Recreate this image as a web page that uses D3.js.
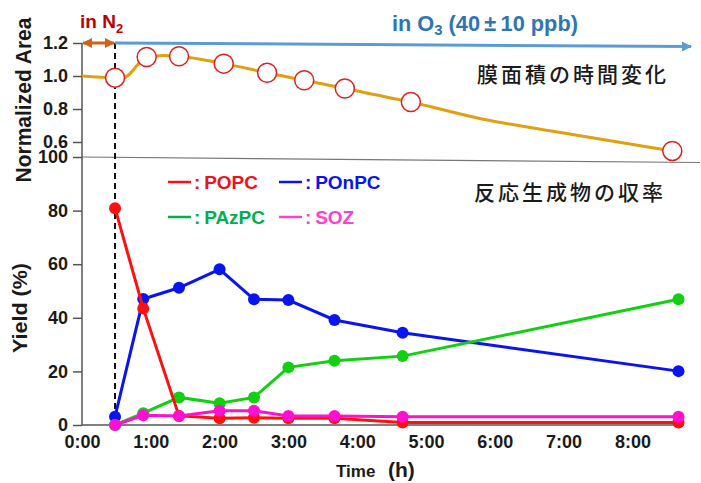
<!DOCTYPE html>
<html><head><meta charset="utf-8">
<script src="https://cdn.jsdelivr.net/npm/d3@7"></script>
<style>body{margin:0;background:#fff;} svg{display:block;}</style>
</head><body><svg id="c" width="701" height="483"></svg>
<script>
// ---- data ----
const hourTicks = [0,1,2,3,4,5,6,7,8];
const hourLabels = ["0:00","1:00","2:00","3:00","4:00","5:00","6:00","7:00","8:00"];
const areaTicks = [0.6,0.8,1.0,1.2];
const yieldTicks = [0,20,40,60,80,100];

const areaTimes  = [0, 0.48, 0.6, 0.94, 1.18, 1.41, 2.06, 2.69, 3.23, 3.82, 4.78, 5.83, 6.8, 8.58];
const areaValues = [1.0, 0.99, 0.99, 1.115, 1.125, 1.12, 1.075, 1.02, 0.974, 0.924, 0.842, 0.738, 0.668, 0.546];
const areaMarkerTimes = [0.48, 0.94, 1.41, 2.06, 2.69, 3.23, 3.82, 4.78, 8.58];

const yieldTimes = [0.48, 0.89, 1.41, 2.0, 2.5, 3.0, 3.67, 4.66, 8.67];
const popc  = [80.9, 43.5, 3.4, 2.5, 2.7, 2.5, 2.5, 0.9, 0.9];
const ponpc = [3.1, 47.0, 51.2, 58.1, 46.9, 46.6, 39.2, 34.4, 20.1];
const pazpc = [0, 4.4, 10.3, 8.1, 10.3, 21.5, 24.0, 25.7, 46.9];
const soz   = [0, 3.6, 3.4, 5.3, 5.3, 3.4, 3.4, 3.1, 3.1];
const seriesNames = ["POPC","POnPC","PAzPC","SOZ"];
const N2Time = 0.48;

// ---- chart ----
const svg = d3.select("#c");
svg.append("rect").attr("width",701).attr("height",483).attr("fill","#fff");
const x = d3.scaleLinear().domain([0,8.75]).range([82,684]);
const yA = d3.scaleLinear().domain([0.6,1.2]).range([142,43]);
const yY = d3.scaleLinear().domain([0,100]).range([425,157]);
const tickFont = "'Liberation Sans', Arial, sans-serif";

function fitWidth(sel, target){
  const f0 = +sel.attr("font-size");
  const w = sel.node().getBBox().width;
  const k = target / w;
  sel.attr("font-size", f0*k);
  sel.selectAll("tspan").each(function(){
    const t = d3.select(this);
    if (t.attr("font-size")) t.attr("font-size", +t.attr("font-size")*k);
  });
}

// separator line at 100
svg.append("line").attr("x1",x(0)).attr("y1",yY(100)).attr("x2",700).attr("y2",yY(100)+5.5)
  .attr("stroke","#777").attr("stroke-width",1.2);

// left axes
function styleAxis(g){
  g.select(".domain").remove();
  g.selectAll(".tick line").attr("stroke","#555").attr("stroke-width",1.5);
  g.selectAll(".tick text").attr("font-family",tickFont).attr("font-weight","bold")
   .attr("font-size",18).attr("fill","#1a1a1a");
}
svg.append("g").attr("transform",`translate(${x(0)},0)`)
  .call(d3.axisLeft(yA).tickValues(areaTicks).tickFormat(d3.format(".1f")).tickSize(9).tickPadding(5))
  .call(styleAxis);
svg.append("g").attr("transform",`translate(${x(0)},0)`)
  .call(d3.axisLeft(yY).tickValues(yieldTicks).tickSize(9).tickPadding(5))
  .call(styleAxis);
svg.append("line").attr("x1",x(0)).attr("x2",x(0)).attr("y1",yA(1.2)).attr("y2",yY(0))
  .attr("stroke","#555").attr("stroke-width",1.5);

// bottom axis
svg.append("g").attr("transform",`translate(0,${yY(0)})`)
  .call(d3.axisBottom(x).tickValues(hourTicks).tickFormat((d,i)=>hourLabels[i]).tickSize(0).tickPadding(10))
  .call(styleAxis);
svg.append("line").attr("x1",x(0)).attr("x2",x(8.75)).attr("y1",yY(0)).attr("y2",yY(0))
  .attr("stroke","#555").attr("stroke-width",1.5);

// dashed vertical
svg.append("line").attr("x1",x(N2Time)).attr("x2",x(N2Time)).attr("y1",yA(1.2)).attr("y2",yY(0))
  .attr("stroke","#111").attr("stroke-width",2).attr("stroke-dasharray","6,4");

// arrows
const defs = svg.append("defs");
function marker(id,color,orient,w,h){
  defs.append("marker").attr("id",id).attr("viewBox","0 0 10 10").attr("refX",9).attr("refY",5)
   .attr("markerWidth",w).attr("markerHeight",h).attr("markerUnits","userSpaceOnUse")
   .attr("orient",orient).append("path").attr("d","M0,0L10,5L0,10Z").attr("fill",color);
}
marker("aO","#d0621c","auto-start-reverse",10,10);
marker("aB","#5b9bd5","auto",12,10);
svg.append("line").attr("x1",x(0)+1).attr("x2",x(N2Time)-1).attr("y1",yA(1.2)).attr("y2",yA(1.2))
  .attr("stroke","#d0621c").attr("stroke-width",3)
  .attr("marker-start","url(#aO)").attr("marker-end","url(#aO)");
svg.append("line").attr("x1",x(N2Time)).attr("x2",691).attr("y1",yA(1.2)).attr("y2",yA(1.2)+3.5)
  .attr("stroke","#5b9bd5").attr("stroke-width",3).attr("marker-end","url(#aB)");

// labels on top
const hdr = svg.append("text").attr("x",80).attr("y",28).attr("font-family",tickFont)
  .attr("font-weight","bold").attr("font-size",19).attr("fill","#c00000");
hdr.append("tspan").text("in N");
hdr.append("tspan").attr("font-size",13).attr("dy",5).text("2");
const o3 = svg.append("text").attr("x",392).attr("y",31).attr("font-family",tickFont)
  .attr("font-weight","bold").attr("font-size",19).attr("fill","#2e75b6");
o3.append("tspan").text("in O");
o3.append("tspan").attr("font-size",13).attr("dy",4).text("3");
o3.append("tspan").attr("dy",-4).text(" (40\u2009\u00b1\u200910 ppb)");
fitWidth(o3, 186);

// Japanese titles
const jp = "'Noto Sans CJK JP', sans-serif";
svg.append("text").attr("x",477).attr("y",82).attr("font-family",jp).attr("font-size",21)
  .attr("font-weight",500).attr("letter-spacing",3).attr("fill","#1a1a1a").text("膜面積の時間変化");
svg.append("text").attr("x",474).attr("y",200).attr("font-family",jp).attr("font-size",21)
  .attr("font-weight",500).attr("letter-spacing",3).attr("fill","#1a1a1a").text("反応生成物の収率");

// area line
const areaData = areaTimes.map((t,i)=>({t,v:areaValues[i]}));
svg.append("path").datum(areaData)
  .attr("d",d3.line().curve(d3.curveMonotoneX).x(d=>x(d.t)).y(d=>yA(d.v)))
  .attr("fill","none").attr("stroke","#e0a010").attr("stroke-width",3);
svg.append("g").selectAll("circle").data(areaData.filter(d=>areaMarkerTimes.includes(d.t)))
  .join("circle").attr("cx",d=>x(d.t)).attr("cy",d=>yA(d.v)).attr("r",9.5)
  .attr("fill","#fff").attr("stroke","#e02020").attr("stroke-width",1.5);

// yield series
const series = [
  {name:"POnPC", vals:ponpc, color:"#0a14f0"},
  {name:"PAzPC", vals:pazpc, color:"#10d010"},
  {name:"POPC",  vals:popc,  color:"#ff1010"},
  {name:"SOZ",   vals:soz,   color:"#ff10d0"}
];
const ln = d3.line().x(d=>x(d.t)).y(d=>yY(d.v));
series.forEach(s=>{
  const data = yieldTimes.map((t,i)=>({t,v:s.vals[i]}));
  const g = svg.append("g");
  g.append("path").datum(data).attr("d",ln).attr("fill","none").attr("stroke",s.color).attr("stroke-width",3);
  g.selectAll("circle").data(data).join("circle").attr("cx",d=>x(d.t)).attr("cy",d=>yY(d.v))
    .attr("r",6).attr("fill",s.color);
});

// legend
const legend = [
  {name:seriesNames[0], line:"#ff1010", text:"#f01020", lx:168, ly:182},
  {name:seriesNames[1], line:"#0a14f0", text:"#0a14f0", lx:279, ly:182},
  {name:seriesNames[2], line:"#00b050", text:"#00b050", lx:168, ly:217},
  {name:seriesNames[3], line:"#ff40cc", text:"#ff40cc", lx:279, ly:217}
];
legend.forEach(l=>{
  svg.append("line").attr("x1",l.lx).attr("x2",l.lx+23).attr("y1",l.ly).attr("y2",l.ly)
    .attr("stroke",l.line).attr("stroke-width",2.5);
  svg.append("text").attr("x",l.lx+26).attr("y",l.ly+7).attr("font-family",tickFont)
    .attr("font-weight","bold").attr("font-size",19).attr("fill",l.text).text(":\u2009"+l.name);
});

// axis titles
svg.append("text").attr("transform","translate(31,100) rotate(-90)").attr("text-anchor","middle")
  .attr("font-family",tickFont).attr("font-weight","bold").attr("font-size",22).attr("fill","#1a1a1a")
  .attr("textLength",165).attr("lengthAdjust","spacingAndGlyphs")
  .text("Normalized Area");
svg.append("text").attr("transform","translate(27,308) rotate(-90)").attr("text-anchor","middle")
  .attr("font-family",tickFont).attr("font-weight","bold").attr("font-size",21).attr("fill","#1a1a1a")
  .attr("textLength",90).attr("lengthAdjust","spacingAndGlyphs")
  .text("Yield (%)");
const tt = svg.append("text").attr("x",336).attr("y",477).attr("font-family",tickFont)
  .attr("font-weight","bold").attr("font-size",17).attr("fill","#1a1a1a");
tt.append("tspan").text("Time");
tt.append("tspan").attr("x",388).attr("font-size",21).text("(h)");
</script></body></html>
